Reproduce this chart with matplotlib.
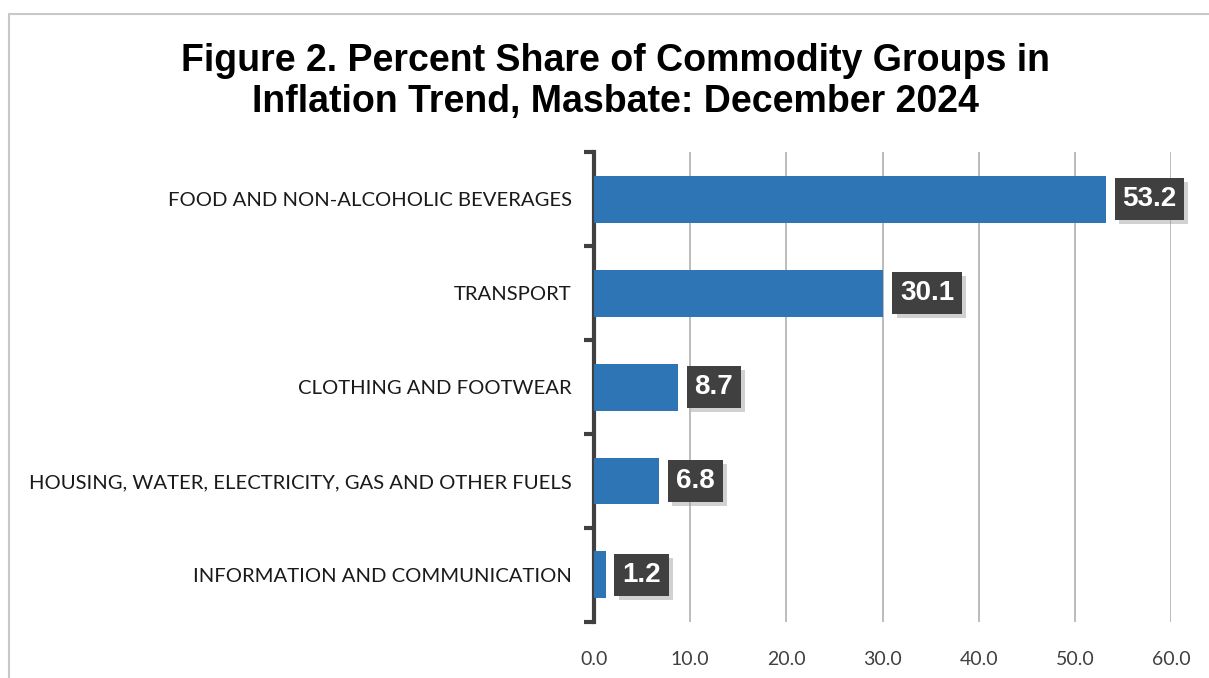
import matplotlib.pyplot as plt
import matplotlib.patheffects as pe
from matplotlib.patches import Rectangle
import numpy as np

categories = [
    "FOOD AND NON-ALCOHOLIC BEVERAGES",
    "TRANSPORT",
    "CLOTHING AND FOOTWEAR",
    "HOUSING, WATER, ELECTRICITY, GAS AND OTHER FUELS",
    "INFORMATION AND COMMUNICATION",
]
shares = [53.2, 30.1, 8.7, 6.8, 1.2]
xticks = [0, 10, 20, 30, 40, 50, 60]

bar_color = "#2E75B6"
dark = "#404040"

fig = plt.figure(figsize=(12.09, 6.78), dpi=100)
ax = fig.add_axes([0.4913, 0.0826, 0.4773, 0.6932])

# outer frame of the chart area
fig.patches.append(Rectangle((9 / 1209, -0.1), 1.2, 1 - 14 / 678 + 0.1,
                             transform=fig.transFigure, fill=False,
                             edgecolor="#C8C8C8", lw=1.5))

y = np.arange(len(categories))
ax.barh(y, shares, height=0.5, color=bar_color, zorder=3)

ax.set_xlim(0, 60)
ax.set_ylim(len(categories) - 0.5, -0.5)

ax.set_xticks(xticks)
ax.set_xticklabels([f"{v:.1f}" for v in xticks], fontsize=14, color="#404040",
                   family="Lato")
ax.tick_params(axis="x", length=0, pad=21)
ax.grid(axis="x", color="#B0B0B0", lw=1.2, zorder=0)

ax.set_yticks(y)
ax.set_yticklabels(categories, fontsize=14.6, family="Lato", color="#1a1a1a")
ax.tick_params(axis="y", which="major", length=0, pad=16)
ax.set_yticks(np.arange(-0.5, len(categories)), minor=True)
ax.tick_params(axis="y", which="minor", length=7, width=3, color=dark)

for s in ["top", "right", "bottom"]:
    ax.spines[s].set_visible(False)
ax.spines["left"].set_linewidth(3)
ax.spines["left"].set_color(dark)
ax.set_axisbelow(True)

for yi, v in zip(y, shares):
    t = ax.annotate(f"{v:.1f}", (v, yi), xytext=(12, 0), textcoords="offset points",
                    ha="left", va="center", fontsize=20, fontweight="bold",
                    color="white", family="Liberation Sans", zorder=5,
                    bbox=dict(boxstyle="square,pad=0.28", fc=dark, ec="none"))
    t.get_bbox_patch().set_path_effects(
        [pe.SimplePatchShadow(offset=(3, -3), shadow_rgbFace="#999999", alpha=0.45),
         pe.Normal()])

fig.text(0.509, 0.880, "Figure 2. Percent Share of Commodity Groups in\nInflation Trend, Masbate: December 2024",
         ha="center", va="center", fontsize=27, fontweight="bold",
         family="Liberation Sans", linespacing=1.2)

fig.savefig("out.png", dpi=100, facecolor="white")
